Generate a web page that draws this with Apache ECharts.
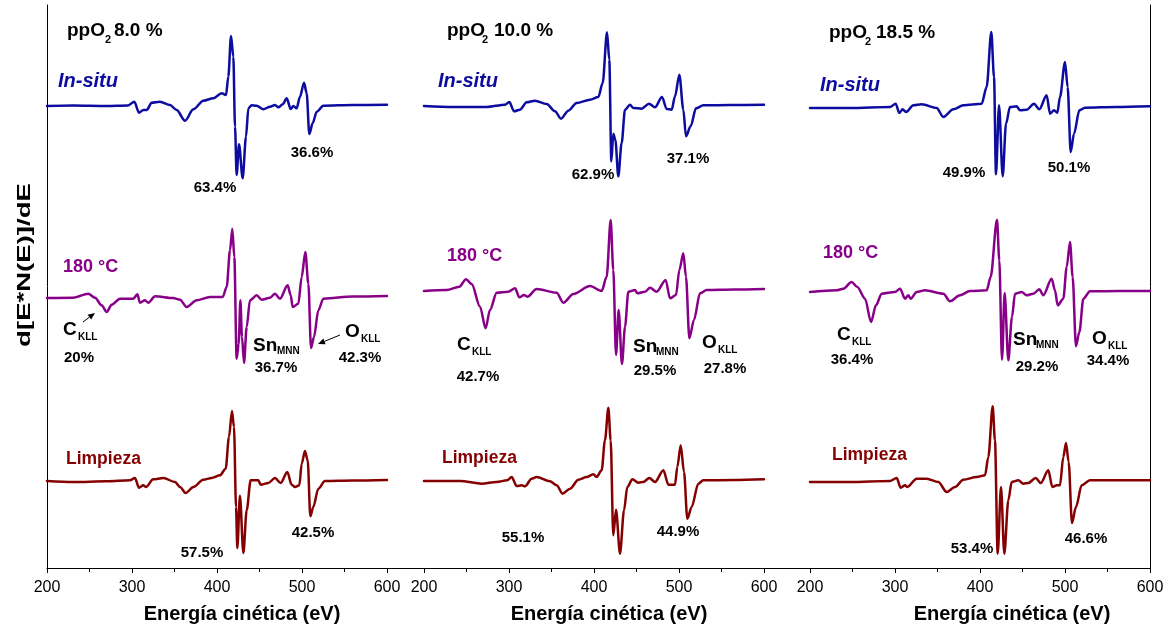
<!DOCTYPE html>
<html>
<head>
<meta charset="utf-8">
<title>AES ppO2</title>
<script src="https://cdn.jsdelivr.net/npm/echarts@6/dist/echarts.min.js"></script>
<style>
html, body { margin: 0; padding: 0; background: #fff; }
#chart { width: 1171px; height: 628px; }
</style>
</head>
<body>
<div id="chart"></div>
<script>
// curvas AES: [energia (eV), d[E*N(E)]/dE (u.a.)]
var energyTicks = [200, 300, 400, 500, 600];
var panelTitles = ['8.0 %', '10.0 %', '18.5 %'];
var rowNames = ['In-situ', '180 °C', 'Limpieza'];

// ppO2 8.0 %
var p1InSitu = [[200,0],[231,0.5],[270,0],[295,0.5],[302.7,4.3],[308.2,-6.7],[313.3,-4],[317.3,-4],[323.1,3.3],[332.9,4.3],[344.7,1],[352.5,-4],[362.4,-14.7],[372.2,-3.3],[383.9,5.3],[395.7,7.7],[405.5,12.7],[410.6,11],[413.3,29.3],[416.5,70],[419.2,49.3],[421.2,-20.7],[423.1,-69],[425.9,-38.3],[430.2,-72.3],[434.1,-30.7],[436.9,-2.3],[440.8,0.7],[446.7,0.3],[454.5,-3.3],[462.4,-0.7],[468.2,1],[472.2,-1.3],[477.3,1.7],[482,7.7],[486.7,-3],[489.8,0],[493.7,-2.3],[497.6,9.3],[502.4,23.3],[505.5,12.7],[508.6,-28],[512.5,-17.3],[517.3,-5.7],[525.1,0.3],[560,1],[600,1.3]];
var p1Heat = [[200,0],[231,0.3],[248.6,4.3],[256.5,0.3],[264.3,-7.3],[270.2,-14],[276.1,-6.7],[285.9,-0.7],[301.6,-0.7],[306.3,3.7],[309.4,-4.7],[315.3,-2.3],[319.2,-4.7],[327.1,1.7],[348.6,0],[356.5,-1.7],[364.3,-9],[376.1,-2.3],[391.8,1],[406.7,1],[411.4,11],[415.3,47.7],[418,69.3],[420.4,41],[423.1,-60.7],[425.5,-45.7],[427.5,-2.3],[429.4,-39],[431.8,-65],[434.9,-29],[438.8,-2.3],[446.7,2.7],[452.5,-1.7],[462.4,0.3],[468.2,4.3],[474.1,-0.7],[483.1,12.7],[486.7,2.7],[489,-9],[495.7,-5.7],[499.6,21],[503.9,46],[507.5,14.3],[510.6,-50],[514.1,-39],[519.2,-12.3],[525.1,-0.7],[560,1.5],[600,2]];
var p1Clean = [[200,0],[231,-1],[270.2,-0.3],[297.6,0.7],[303.5,3],[308.2,-6.7],[313.3,-4.3],[316.5,-6],[325,1.7],[336.9,3],[350.6,-1],[356.5,-6],[363.1,-12],[372.2,-6],[383.9,1.3],[393.7,3],[403.5,5.7],[410.2,12.3],[414.1,44],[417.6,70],[420,54],[422.4,-26],[423.9,-67],[427,-14.7],[431,-72],[434.9,-29.3],[439.6,0.7],[448.6,0.7],[451.4,-3.7],[460.4,-2],[468.2,3],[474.9,-2],[482.7,9],[487.8,-3.7],[491.8,-6],[496.9,-4.3],[499.6,17.3],[503.5,30],[506.7,20.7],[509.8,-35.3],[513.3,-26],[519.2,-7.7],[527,0],[560,0.5],[600,1]];

// ppO2 10.0 %
var p2InSitu = [[200,0],[234.5,-1],[273.7,-1],[295.3,1.3],[300.4,4],[305.9,-5.3],[312.9,-3.7],[320.8,3.7],[330.6,5.3],[344.3,2],[354.1,-5.3],[361.2,-12.7],[369.8,-4.7],[379.6,3],[395.3,6.3],[405.1,9],[410.2,23],[415.3,73.7],[418,46.3],[420.4,-55.3],[422.7,-27.7],[425.1,-33.7],[428.6,-70.3],[432.5,-37],[436.5,-3.7],[442.4,1.3],[446.3,-2],[456.1,-2.7],[464.7,2.3],[471.8,-1.3],[480,9],[485.5,-3],[491.4,-3.7],[495.3,9.7],[500.4,31.3],[505.1,-3.7],[508.2,-30.3],[513.7,-20.3],[520,-2.3],[528.6,0.7],[560,1],[600,1.3]];
var p2Heat = [[200,0],[226.7,1],[241.6,4.3],[249.4,11.7],[256.1,7],[265.9,-15.7],[272.5,-37.3],[277.6,-19],[285.5,-1.7],[299.2,-0.7],[307.1,2.7],[312.2,-6.3],[317.6,-4],[321.6,-5.7],[332.5,2],[356.1,-1.7],[363.9,-11.7],[375.7,-3],[395.3,5],[409,0],[414.9,14.3],[419.6,71],[422.7,21],[425.9,-64],[429,-19],[432.9,-73],[436.5,-35.7],[440.4,-0.7],[448.2,1],[451,-2.3],[460,-0.7],[465.9,3.3],[473.7,-0.7],[484.3,11],[489.4,-7.3],[496.5,-4],[500.4,21],[505.1,37.7],[508.2,14.3],[512.2,-47.3],[517.6,-29],[524.7,-2.3],[532.5,1],[565,1.5],[600,2]];
var p2Clean = [[200,0],[242.4,0],[267.8,-2.7],[285.5,-1],[298,0.7],[303.1,4],[309,-5],[314.9,-4.3],[318.8,-5.3],[326.7,2.3],[332.5,4],[348.2,-0.3],[356.1,-4.3],[363.1,-12.7],[371.8,-7.7],[381.6,1.3],[391.4,4],[399.2,6.7],[403.1,4],[409,10.7],[412.9,40.7],[416.9,73.3],[419.6,40.7],[422.7,-54.3],[425.9,-28.7],[430.6,-72.7],[435.3,-29.3],[439.2,-6],[445.1,1.7],[452.2,-1.7],[458,-1],[465.1,3],[471.8,-1],[481.6,10.7],[487.5,-3.7],[495.3,-3.7],[498,14],[502,35.7],[505.9,9],[509.8,-37.7],[514.9,-26],[522.7,-2.7],[528.6,0.7],[565,1],[600,1.7]];

// ppO2 18.5 %
var p3InSitu = [[200,0],[247.1,0],[294.1,1],[300.8,4.3],[305.1,-5],[309,-1.3],[312.9,-4],[321.6,2.7],[331.4,3.7],[349,0],[356.9,-9],[368.6,-1.3],[380.4,2.7],[402,4.3],[407.8,21],[413.3,76],[416.5,31],[418.8,-66.3],[422.4,2.7],[426.7,-68.3],[430.6,-15.7],[435.3,1],[443.1,1.7],[447.1,-2.3],[454.9,-1.7],[463.5,4.3],[469.8,-1.3],[478.4,12.7],[482.4,-5.7],[487.1,-2.3],[491,-4.7],[494.1,11],[500,46],[503.1,21],[506.7,-44],[510.6,-25.7],[516.9,-2.3],[523.5,0.3],[560,1],[600,1.7]];
var p3Heat = [[200,0],[231.4,1.7],[239.2,3.3],[249,10],[255.7,5],[264.7,-6.7],[271.8,-30],[277.6,-13.3],[284.3,-1.7],[300,0],[305.9,3.3],[311.8,-6.7],[315.7,-3.3],[318.4,-6.7],[325.5,0],[335.3,1.7],[356.9,-1.7],[364.7,-9.3],[376.5,-3.3],[388.2,1],[407.8,1.7],[412.5,15],[420,72.3],[422.7,31.7],[425.9,-67.7],[429,-1],[433.3,-68.3],[437.6,-25],[441.2,-1.7],[449,0],[454.9,-3.3],[462.7,-1.7],[469.8,2.7],[474.5,-3.3],[484.3,13.3],[488.2,1.7],[491.4,-13.3],[498,-6.7],[502,25],[505.9,50],[509,15],[512.9,-54.3],[516.9,-40],[521.6,-6.7],[529.4,0.7],[565,1],[600,1]];
var p3Clean = [[200,0],[247.1,0],[294.1,1],[302,4],[306.7,-5.7],[311.8,-3.3],[314.5,-5],[325.5,3.3],[337.3,3.3],[351,0],[360.8,-10],[370.6,-5],[380.4,2.3],[396.1,5],[405.9,6.7],[409.8,25],[414.9,75.7],[417.6,41.7],[420.8,-71.7],[424.7,-5],[428.6,-71.7],[433.3,-18.3],[437.3,0],[445.1,1.7],[451,-1.7],[456.9,-1],[465.5,4],[471.4,-1],[480.4,11.7],[485.1,-5],[490.2,-3.3],[494.1,-3.3],[498,25],[501.2,39],[504.3,20],[508.2,-41],[512.9,-25],[519.6,-3.3],[529.4,1.7],[565,1.7],[600,1.7]];

var panels = [[p1InSitu, p1Heat, p1Clean], [p2InSitu, p2Heat, p2Clean], [p3InSitu, p3Heat, p3Clean]];
// desplazamiento vertical de cada curva (apiladas)
var offsets = [[462, 270, 87], [462, 277, 87], [460, 276, 86]];

var pctInSitu = [['63.4%', '36.6%'], ['62.9%', '37.1%'], ['49.9%', '50.1%']];
var pctHeat = [['20%', '36.7%', '42.3%'], ['42.7%', '29.5%', '27.8%'], ['36.4%', '29.2%', '34.4%']];
var pctClean = [['57.5%', '42.5%'], ['55.1%', '44.9%'], ['53.4%', '46.6%']];

var colors = ['#0c0ca0', '#880088', '#850000'];
var FONT = 'Liberation Sans, Arial, sans-serif';
var gridLeft = [47, 424, 810];

function shift(arr, off) {
    return arr.map(function (p) { return [p[0], p[1] + off]; });
}

function txt(x, y, s, size, color, align, italic) {
    return {
        type: 'text', x: x, y: y, silent: true,
        style: {
            text: s, fill: color || '#000', fontSize: size, fontWeight: 'bold',
            fontStyle: italic ? 'italic' : 'normal', fontFamily: FONT,
            align: align || 'left', verticalAlign: 'middle'
        }
    };
}

function arrow(x1, y1, x2, y2) {
    var a = Math.atan2(y2 - y1, x2 - x1), L = 7, W = 3;
    var bx = x2 - L * Math.cos(a), by = y2 - L * Math.sin(a);
    return [
        { type: 'line', silent: true, shape: { x1: x1, y1: y1, x2: bx, y2: by }, style: { stroke: '#000', lineWidth: 1 } },
        { type: 'polygon', silent: true, shape: { points: [[x2, y2], [bx + W * Math.sin(a), by - W * Math.cos(a)], [bx - W * Math.sin(a), by + W * Math.cos(a)]] }, style: { fill: '#000' } }
    ];
}

var grids = [], xAxes = [], yAxes = [], series = [];
for (var i = 0; i < 3; i++) {
    grids.push({ left: gridLeft[i], width: 340, top: 5, height: 563 });
    xAxes.push({
        gridIndex: i, type: 'value', min: energyTicks[0], max: energyTicks[energyTicks.length - 1], interval: 100,
        axisLine: { show: true, onZero: false, lineStyle: { color: '#000', width: 1 } },
        axisTick: { show: true, inside: false, length: 5, lineStyle: { color: '#000' } },
        minorTick: { show: true, splitNumber: 2, length: 4, lineStyle: { color: '#000' } },
        axisLabel: { color: '#000', fontSize: 16, fontFamily: FONT, margin: 12 },
        splitLine: { show: false }
    });
    yAxes.push({
        gridIndex: i, type: 'value', min: 0, max: 563,
        position: i === 2 ? 'right' : 'left',
        axisLine: { show: i !== 1, lineStyle: { color: '#000', width: 1 } },
        axisTick: { show: false }, axisLabel: { show: false }, splitLine: { show: false }
    });
    for (var j = 0; j < 3; j++) {
        series.push({
            type: 'line', name: rowNames[j], xAxisIndex: i, yAxisIndex: i,
            data: shift(panels[i][j], offsets[i][j]),
            showSymbol: false, smooth: 0.3, smoothMonotone: 'x',
            lineStyle: { color: colors[j], width: 2.5, join: 'round', cap: 'round' }, silent: true
        });
    }
}

var g = [];
// eje inferior continuo
g.push({ type: 'line', silent: true, shape: { x1: 47, y1: 568.5, x2: 1150, y2: 568.5 }, style: { stroke: '#000', lineWidth: 1 } });
// titulo eje y
g.push({ type: 'text', x: 25, y: 265, rotation: Math.PI / 2, scaleX: 1.45, silent: true,
    style: { text: 'd[E*N(E)]/dE', fill: '#000', fontSize: 19, fontWeight: 'bold', fontFamily: FONT, align: 'center', verticalAlign: 'middle' } });
// titulos eje x
[242, 609, 1012].forEach(function (cx) { g.push(txt(cx, 614, 'Energía cinética (eV)', 20, '#000', 'center')); });

// ppO2
var ppo = [[67, 105, 114, 31], [447, 482, 494, 31], [829, 865, 876, 33]];
ppo.forEach(function (p, i) {
    g.push(txt(p[0], p[3], 'ppO', 19));
    g.push(txt(p[1], p[3] + 9, '2', 11));
    g.push(txt(p[2], p[3], panelTitles[i], 19));
});

// nombres de curvas
var rowPos = [[[58, 81], [63, 267], [66, 459]], [[438, 81], [447, 256], [442, 458]], [[820, 85], [823, 253], [832, 455]]];
for (var i = 0; i < 3; i++) {
    g.push(txt(rowPos[i][0][0], rowPos[i][0][1], rowNames[0], 20, colors[0], 'left', true));
    g.push(txt(rowPos[i][1][0], rowPos[i][1][1], rowNames[1], 18, colors[1]));
    g.push(txt(rowPos[i][2][0], rowPos[i][2][1], rowNames[2], 17.5, colors[2]));
}

// porcentajes
var inPos = [[[215, 188], [312, 153]], [[593, 175], [688, 159]], [[964, 173], [1069, 168]]];
var heatPos = [[[79, 358], [276, 368], [360, 358]], [[478, 377], [655, 371], [725, 369]], [[852, 360], [1037, 367], [1108, 361]]];
var cleanPos = [[[202, 553], [313, 533]], [[523, 538], [678, 532]], [[972, 549], [1086, 539]]];
for (var i = 0; i < 3; i++) {
    for (var k = 0; k < 2; k++) {
        g.push(txt(inPos[i][k][0], inPos[i][k][1], pctInSitu[i][k], 15, '#000', 'center'));
        g.push(txt(cleanPos[i][k][0], cleanPos[i][k][1], pctClean[i][k], 15, '#000', 'center'));
    }
    for (var k = 0; k < 3; k++) {
        g.push(txt(heatPos[i][k][0], heatPos[i][k][1], pctHeat[i][k], 15, '#000', 'center'));
    }
}

// picos Auger: C KLL, Sn MNN, O KLL
var peakLbl = [
    [[63, 330, 78, 337], [253, 346, 277, 351], [345, 332, 361, 339]],
    [[457, 345, 472, 352], [633, 347, 656, 352], [702, 343, 718, 350]],
    [[837, 335, 852, 342], [1013, 340, 1036, 345], [1092, 339, 1108, 346]]
];
var peakMain = ['C', 'Sn', 'O'], peakSub = ['KLL', 'MNN', 'KLL'];
peakLbl.forEach(function (row) {
    row.forEach(function (p, k) {
        g.push(txt(p[0], p[1], peakMain[k], 19));
        g.push(txt(p[2], p[3], peakSub[k], 10));
    });
});
g = g.concat(arrow(83, 322, 95, 313), arrow(340, 335, 318, 344));

var chart = echarts.init(document.getElementById('chart'));
chart.setOption({
    animation: false,
    backgroundColor: '#fff',
    grid: grids, xAxis: xAxes, yAxis: yAxes, series: series,
    graphic: g
});
</script>
</body>
</html>
